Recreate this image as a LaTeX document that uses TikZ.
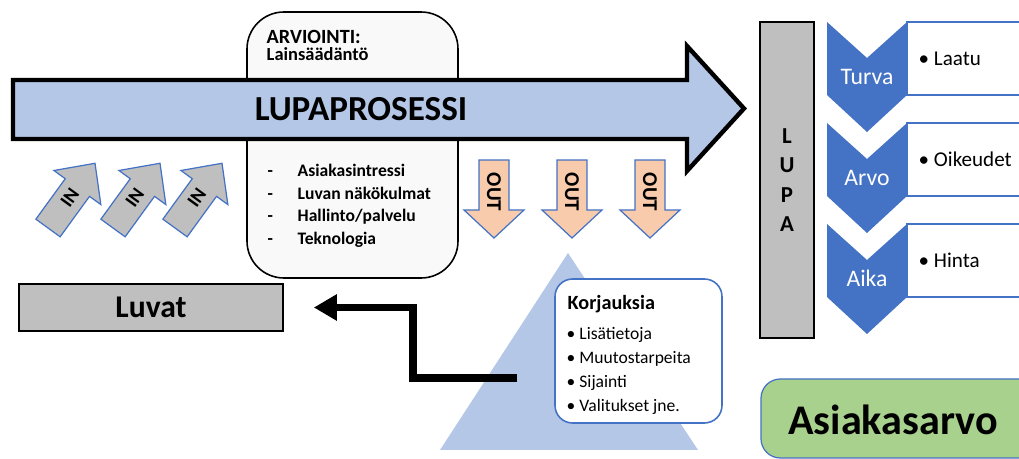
\documentclass[tikz,border=0pt]{standalone}
\usepackage{fontspec}
\setmainfont{Carlito}
\usetikzlibrary{arrows.meta,positioning,calc}
\definecolor{procblue}{HTML}{B4C7E7}
\definecolor{edgeblue}{HTML}{4472C4}
\definecolor{boxgray}{HTML}{BFBFBF}
\definecolor{outpeach}{HTML}{F8CBAD}
\definecolor{valuegreen}{HTML}{A9D18E}
\definecolor{paper}{HTML}{F9F9F9}

\begin{document}
\begin{tikzpicture}[x=0.02cm,y=-0.02cm,thick,
  txt/.style={inner sep=0pt,anchor=base west,font=\bfseries\fontsize{10}{12}\selectfont},
  plain/.style={inner sep=0pt,anchor=base west,font=\fontsize{10}{12}\selectfont},
  inarrow/.style={fill=boxgray,draw=edgeblue,line width=0.7pt},
  outarrow/.style={fill=outpeach,draw=edgeblue,line width=0.7pt},
  grayblock/.style={draw,fill=boxgray,line width=1pt}]
\useasboundingbox (0,0) rectangle (1019,459);
\clip (0,0) rectangle (1019,459);

% arviointi box behind the process arrow
\draw[fill=paper,line width=0.9pt,rounded corners=21pt] (247,12) rectangle (458,278);
\node[txt,font=\bfseries\fontsize{11.5}{13}\selectfont] (arvhead) at (266,43.5) {ARVIOINTI:};
\node[txt,font=\bfseries\fontsize{10.5}{12}\selectfont] (laki) at (266,60.5) {Lainsäädäntö};

% process arrow
\draw[fill=procblue,line width=2.5pt,line join=miter] (13,80) -- (687,80) -- (687,46)
  -- (744,108.5) -- (687,171) -- (687,139) -- (13,139) -- cycle;
\node[font=\bfseries\fontsize{20}{24}\selectfont] (lupaprosessi) at (361,109) {LUPAPROSESSI};

% criteria list
\foreach \y/\t [count=\i] in {177/Asiakasintressi,199.5/Luvan näkökulmat,222/{Hallinto/palvelu},244.5/Teknologia}{
  \node[txt] (dash\i) at (267,\y) {-};
  \node[txt] (crit\i) at (297,\y) {\t};
}

% IN arrows
\foreach \x [count=\i] in {48,113,175}{
  \begin{scope}[shift={(\x,228)},rotate=54]
    \draw[inarrow] (0,-15) -- (50,-15) -- (50,-29) -- (80,0) -- (50,29) -- (50,15) -- (0,15) -- cycle;
    \node[inner sep=0pt,font=\bfseries\fontsize{11}{13}\selectfont,rotate=54] (in\i) at (37,0) {IN};
  \end{scope}
}

% OUT arrows
\foreach \x [count=\i] in {494,572,650}{
  \draw[outarrow] (\x-15,160) -- (\x+15,160) -- (\x+15,210) -- (\x+30,210) -- (\x,238)
    -- (\x-30,210) -- (\x-15,210) -- cycle;
  \node[font=\bfseries\fontsize{12}{14}\selectfont,rotate=-90] (out\i) at (\x,192) {OUT};
}

% korjaukset
\fill[procblue] (568,253) -- (698,450) -- (440,450) -- cycle;
\draw[draw=edgeblue,fill=white,line width=0.9pt,rounded corners=10pt] (555,279) rectangle (722,423);
\node[txt,font=\bfseries\fontsize{11.5}{14}\selectfont] (korjhead) at (567,310) {Korjauksia};
\foreach \y/\t [count=\i] in {340/Lisätietoja,364/Muutostarpeita,388/Sijainti,412/Valitukset jne.}{
  \node[plain] (korj\i) at (566,\y) {\textbullet\ \t};
}

% luvat and return arrow
\node[grayblock,minimum width=5.28cm,minimum height=0.94cm,
  font=\bfseries\fontsize{18}{20}\selectfont] (luvat) at (151,307.5) {Luvat};
\coordinate (korjstart) at (517,378);
\draw[line width=4pt,line join=miter,-{Triangle[length=0.46cm,width=0.5cm]}]
  (korjstart) -- (413,378) |- ($(luvat.east)+(30,0)$);

% lupa
\node[grayblock,minimum width=1.08cm,minimum height=6.32cm,align=center,
  font=\bfseries\fontsize{13}{16.7}\selectfont] (lupa) at (787,180) {L\\U\\P\\A};

% chevrons and values
\foreach \y/\lab/\itm [count=\i] in {22/Turva/Laatu,123/Arvo/Oikeudet,224/Aika/Hinta}{
  \draw[draw=edgeblue,fill=white,line width=0.7pt] (907,\y) rectangle (1040,\y+73);
  \fill[edgeblue] (827,\y) -- (867,\y+36) -- (907,\y) -- (907,\y+73) -- (867,\y+110)
    -- (827,\y+73) -- cycle;
  \node[inner sep=0pt,anchor=base,text=white,font=\fontsize{13.5}{16}\selectfont] (chev\i) at (867,\y+63) {\lab};
  \node[plain,font=\fontsize{12}{14}\selectfont] (value\i) at (918,\y+44) {\textbullet\ \itm};
}

% asiakasarvo
\draw[draw=edgeblue,fill=valuegreen,line width=0.7pt,rounded corners=11pt] (761,379) rectangle (1050,458);
\node[font=\bfseries\fontsize{24}{28}\selectfont] (asiakasarvo) at (893,420) {Asiakasarvo};
\end{tikzpicture}
\end{document}
